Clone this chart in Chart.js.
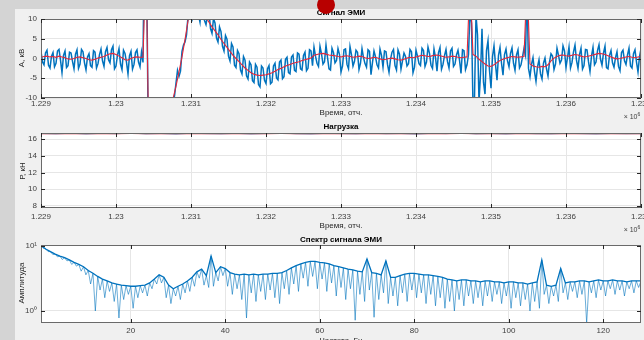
<!DOCTYPE html>
<html>
<head>
<meta charset="utf-8">
<script src="https://cdn.jsdelivr.net/npm/chart.js@4.4.1/dist/chart.umd.min.js"></script>
<style>
  body { margin: 0; width: 644px; height: 340px; overflow: hidden; position: relative;
         background: #d4d4d4; font-family: "Liberation Sans", Arial, sans-serif; }
  #panel { position: absolute; left: 15px; top: 9px; width: 629px; height: 331px; background: #f0f0f0; }
  canvas { position: absolute; left: 0; }
  .t { position: absolute; transform: translate(-50%, -50%); font-size: 8px; line-height: 1; white-space: nowrap; color: #262626; }
  .b { font-weight: bold; color: #000; }
  .r { transform: translate(-50%, -50%) rotate(-90deg); }
  .e { font-size: 7px; color: #404040; }
  .e sup { font-size: 5px; }
  #dot { position: absolute; left: 317px; top: -4px; width: 18px; height: 18px; border-radius: 50%; background: #b80000; }
</style>
</head>
<body>
<div id="panel"></div>
<canvas id="emi" width="644" height="122" style="top:0"></canvas>
<canvas id="load" width="644" height="114" style="top:122px"></canvas>
<canvas id="spec" width="644" height="104" style="top:236px"></canvas>

<div class="t b" style="left:341px;top:13px">Сигнал ЭМИ</div>
<div class="t" style="left:341px;top:113px">Время, отч.</div>
<div class="t e" style="left:632px;top:116px">× 10<sup>6</sup></div>
<div class="t r" style="left:22px;top:58px">А, кВ</div>

<div class="t b" style="left:341px;top:127px">Нагрузка</div>
<div class="t" style="left:341px;top:226px">Время, отч.</div>
<div class="t e" style="left:632px;top:229px">× 10<sup>6</sup></div>
<div class="t r" style="left:23px;top:171px">Р, кН</div>

<div class="t b" style="left:341px;top:240px">Спектр сигнала ЭМИ</div>
<div class="t" style="left:341px;top:341px">Частота, Гц</div>
<div class="t r" style="left:22px;top:283px">Амплитуда</div>

<div id="dot"></div>

<script>
// sample grid of the EMI / load records
var emiStart = 1229000, emiStep = 40;
var loadStep = 200;

var timeTicks = [1229000, 1230000, 1231000, 1232000, 1233000, 1234000, 1235000, 1236000, 1237000];
var emiTicks = [-10, -5, 0, 5, 10];
var loadTicks = [8, 10, 12, 14, 16];
var freqTicks = [20, 40, 60, 80, 100, 120];
var ampTicks = [1, 10];

// raw EMI signal, kV (samples at emiStart + k*emiStep)
var emiSignal = [
  1.8,-1.6,2.1,-2.4,1.5,-1.2,2.3,-3.6,1.9,-1.8,1.4,-2.6,2.2,-1.4,1.7,-2.9,1.2,-2.2,1.6,-1.3,
  2.4,-2.0,2.8,-1.1,3.1,-1.9,2.5,-2.8,1.3,-3.9,1.8,-1.5,2.2,-2.1,
  -1.0, 40, -40,
  -40,-40,-40,-40,-38,-25,-15,
  -10.8,-6.2,-4.5,1.8,4.2,10.6,11.5,14,12,9.2,13,8.6,11.8,6.4,9.0,4.2,6.8,1.9,4.9,-0.6,
  2.9,-2.3,1.2,-3.9,-0.4,-5.2,-1.6,-6.1,-2.2,-7.2,-2.4,-6.3,-1.8,-6.0,-1.2,-5.4,-0.4,-4.6,0.3,-3.9,
  0.9,-3.3,1.1,-2.9,1.6,-2.5,1.9,
  2.9,-1.2,3.1,-1.4,3.4,-2.6,2.6,-1.1,2.5,-3.4,2.2,-1.5,3.0,-1.9,2.1,-2.8,2.5,-1.3,2.2,-4.1,
  1.9,-1.6,2.4,-2.2,1.7,-3.5,1.6,-1.8,2.2,-2.7,1.4,-1.9,2.3,-3.6,2.1,-1.3,2.6,-2.0,2.9,-1.7,
  2.4,-3.2,2.8,-1.5,2.3,-2.4,2.6,-1.4,2.1,-3.8,2.0,-1.6,
  12,-12,11,-11,7.5,-9,4.5,-7.5,3.2,-5.5,2.8,-4.2,
  2.4,-2.1,2.7,-3.0,2.2,-1.6,2.5,
  18,
  -4.6,0.2,-5.8,-0.3,-5.2,0.1,-4.4,
  1.2,-2.8,
  2.6,-1.2,3.2,-2.3,2.9,-1.0,3.4,-2.5,2.6,-1.8,2.2,-3.3,2.8,-0.9,3.5,-1.7,3.1,-2.6,2.0,-2.2,
  1.7,-3.1,2.1,-1.5,2.6,-2.4,2.2,-3.4,2.5
];

// raw EMI signal, kV (samples half a step later: emiStart + emiStep/2 + k*emiStep)
var emiSignalMid = [
  -0.9,1.4,-1.7,0.6,-2.1,1.9,-0.4,0.8,-2.3,1.6,-0.7,1.1,-2.5,2.3,-1.1,0.4,-1.8,2.0,-2.4,1.0,
  -0.6,1.7,-0.3,2.2,-2.6,0.9,-1.4,2.1,-1.0,0.7,-2.7,1.5,-0.9,1.6,
  35, 0,
  -40,-40,-40,-40,-39,-32,-19,
  -12.4,
  -9.5,-3.0,-3.2,3.4,6.0,12.8,10.2,15,11,14,9.6,10.9,7.6,10.1,5.2,8.0,3.1,5.8,0.6,3.8,
  -1.7,2.0,-2.9,0.5,-4.4,-0.9,-5.6,-1.5,-6.6,-1.9,-5.5,-2.6,-6.4,-1.9,-4.9,-0.9,-5.1,-0.2,-3.6,0.4,
  -3.0,1.4,-2.6,0.8,-3.1,2.2,
  -1.8,0.6,-2.0,1.2,-0.8,0.3,-2.9,1.5,-0.5,1.0,-1.9,2.4,-2.6,0.9,-0.7,1.6,-1.2,0.2,-2.2,1.8,
  -1.0,0.4,-2.4,0.8,1.9,-1.5,-0.2,2.3,-2.9,1.1,-0.6,0.5,-1.3,1.7,-2.2,0.6,-1.8,2.0,-0.9,1.3,
  -2.5,0.2,1.5,-2.7,0.7,-0.8,1.9,-2.0,0.9,-0.4,2.2,-2.8,
  1.0,
  9,-10,6,-4,-6,2,-3,0.5,-1.5,0.8,-1.2,
  1.0,
  -0.6,1.3,-1.2,0.9,-2.4,0.4,
  0.8,-2.5,
  -1.5,-3.3,-2.1,-3.9,-1.2,-2.6,
  -0.9,0.6,-1.4,
  0.8,-0.4,1.9,0.3,-2.4,1.7,-0.5,1.0,-2.7,2.3,-0.8,0.6,-1.6,2.0,-0.2,1.4,-2.3,0.8,-1.1,0.2,
  -2.0,1.5,-0.6,0.9,-1.9,1.2,-0.9,0.4
];

// smoothed EMI signal, kV
var emiSmooth = [
  0.3,0.5,0.6,0.4,0.5,0.3,0.6,0.4,0.2,-0.1,-0.2,0.0,0.3,0.4,0.2,0.0,-0.3,-0.4,-0.2,0.1,
  0.3,0.5,0.9,1.2,1.3,1.0,0.6,0.2,-0.3,-0.4,0.0,0.3,0.4,0.3,
  0.3, 25, -25,
  -25,-25,-25,-25,-25,-20,-14,
  -10.2,-7.0,-3.4,0.4,4.8,9.5,12.5,13.5,13.5,12.5,11.5,10.4,9.2,8.0,7.0,6.0,4.8,3.8,2.8,1.8,
  0.8,0.0,-0.8,-1.6,-2.4,-3.0,-3.6,-4.0,-4.2,-4.3,-4.2,-4.1,-3.9,-3.6,-3.2,-2.8,-2.5,-2.1,-1.8,-1.5,
  -1.2,-1.0,-0.8,-0.5,-0.3,-0.1,0.1,
  0.8,1.0,1.2,1.3,1.1,0.9,0.8,0.7,0.5,0.4,0.6,0.7,0.5,0.3,0.4,0.6,0.5,0.2,0.0,0.1,
  0.3,0.2,-0.1,-0.3,-0.2,0.0,0.1,-0.1,-0.3,-0.4,-0.2,0.1,0.3,0.2,0.4,0.6,0.8,0.7,0.5,0.6,
  0.8,0.9,0.7,0.5,0.3,0.4,0.6,0.5,0.3,0.2,0.3,0.4,
  20,1.0,0.6,-0.2,-0.8,-1.4,-1.9,-2.0,-1.6,-1.0,-0.5,-0.2,
  0.1,0.3,0.5,0.4,0.3,0.4,0.5,
  20,
  -1.4,-1.9,-2.1,-2.2,-2.0,-2.1,-1.6,
  -0.6,0.1,
  0.5,0.8,0.9,0.7,0.6,0.8,1.0,0.9,0.6,0.4,0.5,0.7,0.9,1.1,1.3,1.2,1.0,0.7,0.4,0.1,
  -0.1,0.0,0.2,0.4,0.5,0.3,0.2,0.4,0.5
];

// load, kN
var loadValues = [16.66,16.63,16.68,16.62,16.67,16.64,16.69,16.63,16.66,16.61,16.68,16.65,16.63,16.67,16.62,16.66,
  16.69,16.64,16.62,16.67,16.65,16.63,16.68,16.64,16.66,16.61,16.67,16.65,16.69,16.63,16.66,16.62,16.68,16.64,
  16.63,16.67,16.65,16.62,16.66,16.64,16.65];
var loadSmooth = [16.65,16.65,16.65,16.64,16.65,16.65,16.66,16.65,16.65,16.64,16.65,16.65,16.65,16.65,16.64,16.65,
  16.66,16.65,16.64,16.65,16.65,16.65,16.65,16.65,16.65,16.64,16.65,16.65,16.66,16.65,16.65,16.64,16.65,16.65,
  16.65,16.65,16.65,16.64,16.65,16.65,16.65];

// spectrum: values at whole Hz (1..128) and at the half-Hz notches between them
var specPeaks = [
  10.2,9.0,8.2,7.5,7.0,6.6,6.1,5.6,5.2,4.8,
  4.2,3.8,3.4,3.1,2.9,2.7,2.6,2.5,2.45,2.4,
  2.4,2.45,2.5,2.7,3.1,3.6,3.3,2.5,2.2,2.4,
  2.6,2.9,3.3,4.0,4.4,3.5,7.0,3.9,4.8,4.5,
  3.9,3.7,3.6,3.7,3.6,3.7,3.6,3.7,3.7,3.8,
  3.8,3.9,4.2,4.6,5.0,5.3,5.6,5.8,5.8,5.6,
  5.5,5.3,5.0,4.8,4.6,4.4,4.3,4.1,4.0,6.3,
  3.9,3.8,3.6,5.9,3.3,3.3,3.5,3.7,3.8,3.8,
  3.7,3.6,3.6,3.5,3.4,3.3,3.1,3.0,2.9,3.0,
  3.0,2.9,2.9,2.8,2.9,2.9,2.8,2.8,2.7,2.8,
  2.8,2.7,2.7,2.6,2.7,2.8,6.1,2.5,2.4,2.5,
  4.5,2.7,2.8,2.8,2.9,2.9,2.8,2.9,3.0,2.9,
  2.9,3.0,2.9,2.9,2.8,2.9,2.9,2.9
];
var specDips = [
  9.2,8.2,7.4,6.8,6.2,5.9,5.2,4.9,4.1,3.6,
  2.6,1.0,2.1,1.6,2.0,1.4,0.78,1.5,1.8,1.1,
  1.6,1.9,1.7,2.2,2.6,2.7,1.6,1.3,1.7,1.5,
  1.9,2.0,2.4,3.2,2.5,2.3,2.4,2.9,3.5,2.4,
  1.8,2.2,1.5,0.78,1.9,1.4,2.0,1.5,2.1,1.6,
  1.3,2.2,1.8,2.6,2.0,3.2,2.4,3.4,2.2,3.1,
  2.0,2.7,1.7,2.3,1.5,2.2,0.72,1.8,1.4,2.1,
  0.8,1.5,1.9,1.3,1.7,1.2,1.9,1.4,2.1,1.6,
  1.9,1.3,1.8,1.2,1.6,1.1,1.4,1.0,1.5,1.2,
  1.7,1.3,1.6,1.2,1.7,1.4,1.8,1.3,1.7,1.1,
  1.6,1.2,1.5,1.0,1.4,1.1,1.8,1.3,1.7,1.4,
  1.9,1.5,2.0,1.6,1.8,0.65,1.9,1.6,2.1,1.7,
  2.2,1.8,2.1,1.7,2.2,1.9,2.3
];

var family = '"Liberation Sans", Arial, sans-serif';
var blue = '#0072bd';
var red = '#e3263a';

function series(values, start, step) {
  return values.map(function (v, i) { return { x: start + i * step, y: v }; });
}

// merge the two half-step sample sets of the raw signal into one trace
var emiPoints = [];
emiSignal.forEach(function (v, i) {
  emiPoints.push({ x: emiStart + i * emiStep, y: v });
  if (i < emiSignalMid.length) emiPoints.push({ x: emiStart + i * emiStep + emiStep / 2, y: emiSignalMid[i] });
});

var specPoints = [];
specPeaks.forEach(function (v, i) {
  specPoints.push({ x: i + 1, y: v });
  if (i < specDips.length) specPoints.push({ x: i + 1.5, y: specDips[i] });
});
var peakPoints = specPeaks.map(function (v, i) { return { x: i + 1, y: v }; });

// white axes background, box and inward tick marks (matlab style)
var axesBox = {
  id: 'axesBox',
  beforeDraw: function (chart) {
    var a = chart.chartArea, ctx = chart.ctx;
    ctx.save();
    ctx.fillStyle = '#ffffff';
    ctx.fillRect(a.left, a.top, a.right - a.left, a.bottom - a.top);
    ctx.restore();
  },
  afterDraw: function (chart) {
    var a = chart.chartArea, ctx = chart.ctx, xs = chart.scales.x, ys = chart.scales.y;
    ctx.save();
    ctx.lineWidth = 1;
    ctx.strokeStyle = '#6a6a6a';
    ctx.strokeRect(a.left + 0.5, a.top + 0.5, a.right - a.left - 1, a.bottom - a.top - 1);
    ctx.strokeStyle = '#262626';
    ctx.beginPath();
    xs.ticks.forEach(function (t) {
      var p = Math.round(xs.getPixelForValue(t.value)) + 0.5;
      ctx.moveTo(p, a.bottom); ctx.lineTo(p, a.bottom - 4);
      ctx.moveTo(p, a.top); ctx.lineTo(p, a.top + 4);
    });
    ys.ticks.forEach(function (t) {
      var p = Math.round(ys.getPixelForValue(t.value)) + 0.5;
      ctx.moveTo(a.left, p); ctx.lineTo(a.left + 4, p);
      ctx.moveTo(a.right, p); ctx.lineTo(a.right - 4, p);
    });
    ctx.stroke();
    ctx.restore();
  }
};

function makeChart(id, c) {
  return new Chart(document.getElementById(id), {
    type: 'line',
    data: { datasets: c.datasets },
    plugins: [axesBox],
    options: {
      animation: false,
      responsive: false,
      events: [],
      layout: { padding: { top: c.top, left: 11, right: 3, bottom: 0 } },
      plugins: { legend: { display: false }, tooltip: { enabled: false } },
      elements: { point: { radius: 0 }, line: { borderWidth: 1, tension: 0 } },
      scales: {
        x: {
          type: 'linear', min: c.xMin, max: c.xMax,
          afterBuildTicks: function (s) { s.ticks = c.xTicks.map(function (v) { return { value: v }; }); },
          afterFit: function (s) { s.height = c.xHeight; s.paddingLeft = 0; s.paddingRight = 0; },
          grid: { color: '#e6e6e6', drawTicks: false },
          border: { display: false },
          ticks: { padding: c.xPad, color: '#404040', font: { size: 8, family: family },
                   maxRotation: 0, autoSkip: false, callback: c.xFmt }
        },
        y: {
          type: c.yType, min: c.yMin, max: c.yMax,
          afterBuildTicks: function (s) { s.ticks = c.yTicks.map(function (v) { return { value: v }; }); },
          afterFit: function (s) { s.width = 30; s.paddingTop = 0; s.paddingBottom = 0; },
          grid: { color: '#e6e6e6', drawTicks: false },
          border: { display: false },
          ticks: { padding: 4, color: '#404040', font: { size: 8, family: family }, callback: c.yFmt }
        }
      }
    }
  });
}

function timeFmt(v) { return String(+(v / 1e6).toFixed(3)); }

makeChart('emi', {
  top: 19, xHeight: 24, xPad: 1,
  xMin: 1229000, xMax: 1237000, xTicks: timeTicks, xFmt: timeFmt,
  yType: 'linear', yMin: -10, yMax: 10, yTicks: emiTicks, yFmt: function (v) { return String(v); },
  datasets: [
    { data: series(emiSmooth, emiStart, emiStep), borderColor: red, borderWidth: 1.1 },
    { data: emiPoints, borderColor: blue, borderWidth: 1.5 }
  ]
});

makeChart('load', {
  top: 11, xHeight: 28, xPad: 4,
  xMin: 1229000, xMax: 1237000, xTicks: timeTicks, xFmt: timeFmt,
  yType: 'linear', yMin: 7.76, yMax: 16.72, yTicks: loadTicks, yFmt: function (v) { return String(v); },
  datasets: [
    { data: series(loadSmooth, emiStart, loadStep), borderColor: red, borderWidth: 1.2 },
    { data: series(loadValues, emiStart, loadStep), borderColor: blue, borderWidth: 1 }
  ]
});

makeChart('spec', {
  top: 9, xHeight: 17, xPad: 3,
  xMin: 1, xMax: 128, xTicks: freqTicks, xFmt: function (v) { return String(v); },
  yType: 'logarithmic', yMin: 0.653, yMax: 10.36, yTicks: ampTicks,
  yFmt: function (v) { return v === 1 ? '10\u2070' : '10\u00b9'; },
  datasets: [
    { data: peakPoints, borderColor: blue, borderWidth: 1.3 },
    { data: specPoints, borderColor: 'rgba(0,114,189,0.65)', borderWidth: 0.9 }
  ]
});
</script>
</body>
</html>
